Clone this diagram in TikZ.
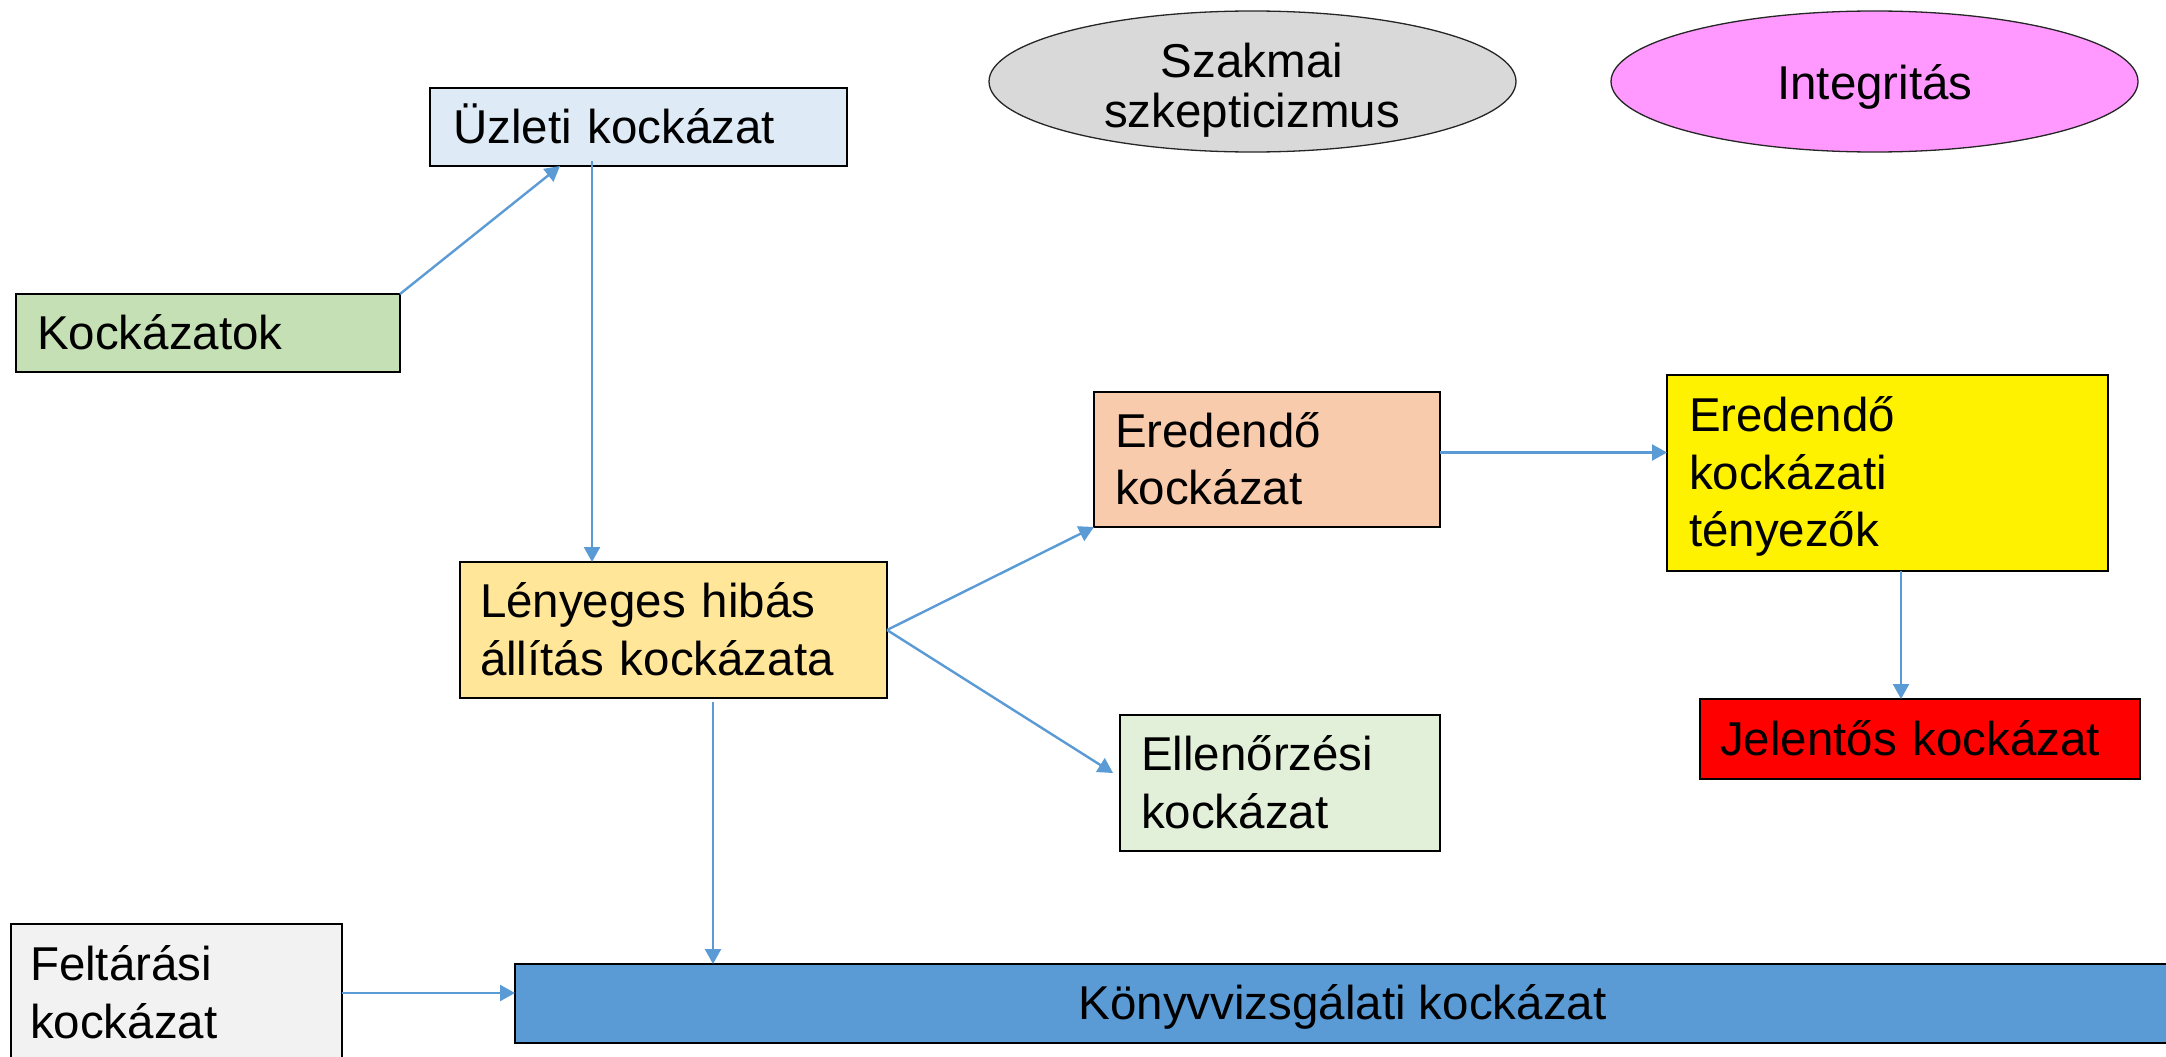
\documentclass[tikz,border=0pt]{standalone}
\usepackage{fontspec}
\setmainfont{Liberation Sans}
\usetikzlibrary{arrows.meta,shapes.geometric,calc}

% fills of the boxes
\definecolor{linkblue}{RGB}{91,155,213}
\definecolor{uzletfill}{RGB}{222,235,247}
\definecolor{kockfill}{RGB}{197,224,180}
\definecolor{lenyfill}{RGB}{255,230,153}
\definecolor{eredfill}{RGB}{248,203,173}
\definecolor{ellfill}{RGB}{226,240,217}
\definecolor{feltfill}{RGB}{242,242,242}
\definecolor{szakfill}{RGB}{217,217,217}
\definecolor{integfill}{RGB}{255,153,255}

% fixed line height so every box centres its lines the same way
\newcommand\rowstrut{\vrule height 45pt depth 12.5pt width 0pt}

\begin{document}
\begin{tikzpicture}[x=1pt,y=-1pt,
  lbl/.style={font={\fontsize{47.5}{57.5}\selectfont\lineskiplimit=-100pt\parindent=0pt\relax}},
  riskbox/.style={lbl, rectangle, draw=black, line width=2.2pt, anchor=north west,
                  align=left, inner ysep=0pt, outer sep=0pt},
  oval/.style={ellipse, draw=black!85, line width=1.3pt, inner sep=0pt,
               minimum width=527pt, minimum height=141pt},
  ovallbl/.style={font={\fontsize{47.5}{50}\selectfont\lineskiplimit=-100pt\relax},
                  align=center, inner sep=0pt, anchor=north},
  conn/.style={draw=linkblue, line width=2.4pt, -{Triangle[length=15pt,width=16pt]}}]

\fill[white] (0,0) rectangle (2166,1057);
\useasboundingbox (0,0) rectangle (2166,1057);
\clip (0,0) rectangle (2166,1057);

% ellipses at the top
\node[oval, fill=szakfill] (szak) at (1252.5,81.5) {};
\node[ovallbl] (szak-t) at (1252,32) {\rowstrut Szakmai\\\rowstrut szkepticizmus};
\node[oval, fill=integfill] (integ) at (1874.5,81.5) {};
\node[ovallbl] (integ-t) at (1875,54) {\rowstrut Integritás};

% boxes
\node[riskbox, fill=uzletfill, text width=371pt, inner xsep=23pt, minimum height=78pt]
  (uzlet) at (430,88) {\rowstrut Üzleti kockázat};
\node[riskbox, fill=kockfill, text width=342pt, inner xsep=21pt, minimum height=78pt]
  (kock) at (16,294) {\rowstrut Kockázatok};
\node[riskbox, fill=lenyfill, text width=387pt, inner xsep=20pt, minimum height=136pt]
  (leny) at (460,562) {\rowstrut Lényeges hibás\\\rowstrut állítás kockázata};
\node[riskbox, fill=eredfill, text width=304pt, inner xsep=21pt, minimum height=135pt]
  (ered) at (1094,392) {\rowstrut Eredendő\\\rowstrut kockázat};
\node[riskbox, fill=ellfill, text width=278pt, inner xsep=21pt, minimum height=136pt]
  (ell) at (1120,715) {\rowstrut Ellenőrzési\\\rowstrut kockázat};
\node[riskbox, fill=yellow, text width=397pt, inner xsep=22pt, minimum height=196pt]
  (tenyezo) at (1667,375) {\rowstrut Eredendő\\\rowstrut kockázati\\\rowstrut tényezők};
\node[riskbox, fill=red, text width=400pt, inner xsep=20pt, minimum height=80pt]
  (jelentos) at (1700,699) {\rowstrut Jelentős kockázat};
\node[riskbox, fill=feltfill, text width=293pt, inner xsep=19pt, minimum height=138pt]
  (felt) at (11,924) {\rowstrut Feltárási\\\rowstrut kockázat};
\node[riskbox, fill=linkblue, align=center, inner xsep=0pt, minimum width=1655pt, minimum height=79pt]
  (konyv) at (515,964) {\rowstrut Könyvvizsgálati kockázat};

% connectors
\draw[conn] (kock.north east) -- ($(uzlet.south west)+(130,0)$);

\coordinate (uzdown) at ($(uzlet.south west)+(162,-5)$);
\draw[conn] (uzdown) -- (uzdown |- leny.north);

\draw[conn] (leny.east) -- (ered.south west);
\draw[conn] (leny.east) -- ($(ell.west)+(-7,-10)$);

\coordinate (lenydown) at ($(leny.south west)+(253,4)$);
\draw[conn] (lenydown) -- (lenydown |- konyv.north);

\draw[conn] (felt.east) -- (felt.east -| konyv.west);

\coordinate (ereright) at ($(ered.east)+(0,-7)$);
\draw[conn] (ereright) -- (ereright -| tenyezo.west);

\coordinate (tenydown) at ($(tenyezo.south west)+(234,0)$);
\draw[conn] (tenydown) -- (tenydown |- jelentos.north);
\end{tikzpicture}
\end{document}
